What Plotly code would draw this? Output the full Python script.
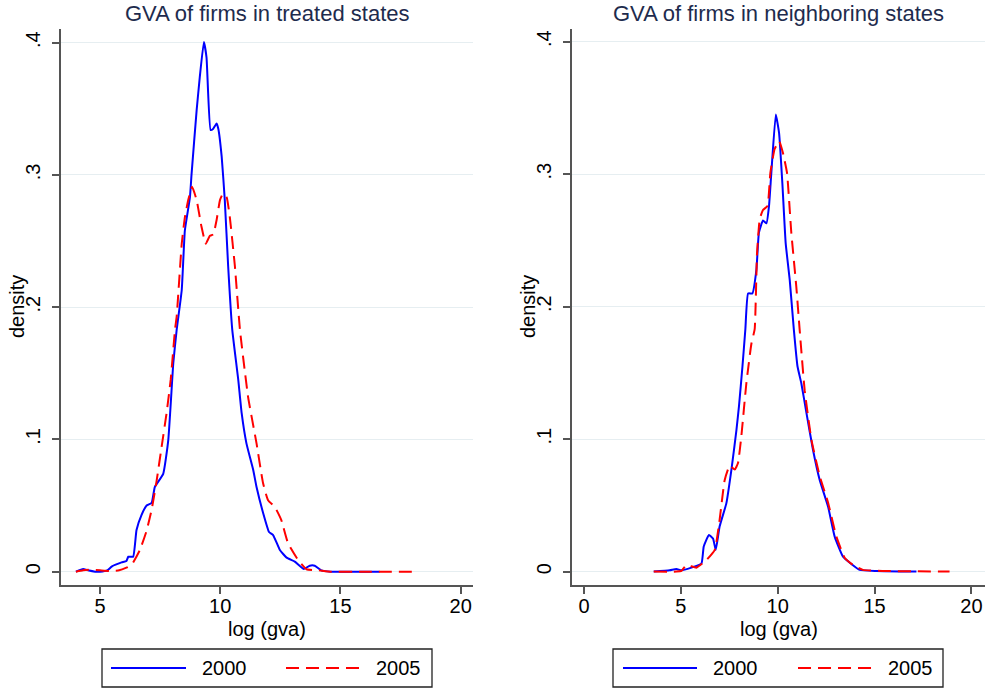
import plotly.graph_objects as go

# ---------------- data ----------------
treated_x_2000 = [4.0, 4.3, 4.5, 4.8, 5.0, 5.3, 5.5, 5.9, 6.1, 6.18, 6.38, 6.52, 6.73, 6.94, 7.15, 7.28, 7.63, 7.84,
                  8.05, 8.19, 8.40, 8.53, 8.74, 8.81, 9.02, 9.15, 9.32, 9.43, 9.60, 9.71, 9.85, 9.92, 10.06, 10.19,
                  10.33, 10.5, 10.75, 10.89, 11.09, 11.37, 11.51, 11.79, 12.03, 12.2, 12.48, 12.76, 13.1, 13.48,
                  13.72, 13.93, 14.2, 14.6, 15.5, 16.63]
treated_y_2000 = [0, 0.002, 0.001, 0, 0, 0.001, 0.004, 0.007, 0.008, 0.0113, 0.0113, 0.0315, 0.043, 0.050, 0.052,
                  0.064, 0.074, 0.0995, 0.158, 0.183, 0.213, 0.258, 0.283, 0.301, 0.349, 0.374, 0.4006, 0.389,
                  0.334, 0.335, 0.339, 0.335, 0.314, 0.281, 0.231, 0.183, 0.145, 0.120, 0.097, 0.077, 0.064, 0.044,
                  0.030, 0.0277, 0.0164, 0.0106, 0.0076, 0.002, 0.0045, 0.0045, 0.001, 0.0, 0, 0]

treated_x_2005 = [4.0, 4.3, 4.6, 5.0, 5.4, 5.8, 6.1, 6.31, 6.66, 6.94, 7.15, 7.35, 7.56, 7.77, 7.94, 8.12, 8.19,
                  8.40, 8.53, 8.67, 8.83, 9.02, 9.22, 9.40, 9.57, 9.71, 9.85, 9.99, 10.12, 10.27, 10.40, 10.61,
                  10.82, 11.16, 11.51, 11.78, 11.99, 12.27, 12.54, 12.82, 13.24, 13.59, 14.1, 14.6, 16.0, 18.22]
treated_y_2005 = [0, 0.001, 0.0015, 0.001, 0.0005, 0.001, 0.003, 0.005, 0.0164, 0.031, 0.047, 0.068, 0.094, 0.12,
                  0.145, 0.183, 0.193, 0.248, 0.268, 0.281, 0.291, 0.281, 0.261, 0.248, 0.254, 0.255, 0.266, 0.281,
                  0.286, 0.283, 0.268, 0.231, 0.183, 0.132, 0.097, 0.067, 0.054, 0.049, 0.039, 0.0215, 0.0088,
                  0.0018, 0.001, 0, 0, 0]

neigh_x_2000 = [3.6, 4.42, 4.77, 5.03, 5.54, 6.06, 6.18, 6.45, 6.66, 6.8, 7.0, 7.35, 7.61, 7.87, 8.0, 8.18, 8.33,
                8.47, 8.69, 8.9, 9.03, 9.24, 9.42, 9.55, 9.67, 9.9, 10.07, 10.24, 10.41, 10.62, 10.83, 11.02, 11.22,
                11.48, 11.82, 12.17, 12.6, 12.94, 13.37, 13.8, 14.23, 15.1, 17.16]
neigh_y_2000 = [0, 0.001, 0.002, 0.001, 0.003, 0.006, 0.019, 0.0277, 0.025, 0.0164, 0.034, 0.0517, 0.077, 0.107,
                0.125, 0.155, 0.183, 0.210, 0.210, 0.228, 0.256, 0.265, 0.263, 0.276, 0.301, 0.345, 0.331, 0.293,
                0.248, 0.220, 0.183, 0.155, 0.142, 0.120, 0.092, 0.069, 0.049, 0.0264, 0.0113, 0.0058, 0.0013,
                0.0005, 0]

neigh_x_2005 = [3.6, 4.77, 5.03, 5.28, 5.8, 6.32, 6.75, 7.0, 7.26, 7.52, 7.78, 7.95, 8.12, 8.38, 8.64, 8.81, 8.93,
                9.07, 9.24, 9.47, 9.62, 9.84, 10.07, 10.27, 10.48, 10.7, 10.96, 11.13, 11.39, 11.74, 12.17, 12.6,
                13.03, 13.46, 13.89, 14.4, 15.4, 18.87]
neigh_y_2005 = [0, 0, 0.0005, 0.005, 0.003, 0.0087, 0.0164, 0.039, 0.069, 0.080, 0.077, 0.082, 0.102, 0.142, 0.172,
                0.183, 0.240, 0.266, 0.273, 0.276, 0.301, 0.319, 0.325, 0.316, 0.301, 0.256, 0.215, 0.183, 0.137,
                0.0995, 0.072, 0.052, 0.0264, 0.0103, 0.005, 0.0013, 0.0005, 0]

panel_titles = ["GVA of firms in treated states", "GVA of firms in neighboring states"]
series_names = ["2000", "2005"]
y_tickvals = [0, 0.1, 0.2, 0.3, 0.4]
y_ticktext = ["0", ".1", ".2", ".3", ".4"]
left_xticks = [5, 10, 15, 20]
right_xticks = [0, 5, 10, 15, 20]

# ---------------- styling ----------------
W, H = 985, 690
FONT = "Liberation Sans, Arial, Helvetica, sans-serif"
BLUE = "#0000ff"
RED = "#ff0000"
GRID = "#e6eef1"
AXIS = "#555555"
TITLE_COLOR = "#1e2b4d"
DASH = "13px,7px"

def px(x):
    return x / W

def py(y):
    return 1 - y / H

fig = go.Figure()

def line(color, dash=None):
    d = dict(color=color, width=2, shape="spline", smoothing=0.4)
    if dash:
        d["dash"] = dash
    return d

fig.add_trace(go.Scatter(x=treated_x_2000, y=treated_y_2000, mode="lines", name=series_names[0],
                         line=line(BLUE), xaxis="x", yaxis="y", showlegend=False))
fig.add_trace(go.Scatter(x=treated_x_2005, y=treated_y_2005, mode="lines", name=series_names[1],
                         line=line(RED, DASH), xaxis="x", yaxis="y", showlegend=False))
fig.add_trace(go.Scatter(x=neigh_x_2000, y=neigh_y_2000, mode="lines", name=series_names[0],
                         line=line(BLUE), xaxis="x2", yaxis="y2", showlegend=False))
fig.add_trace(go.Scatter(x=neigh_x_2005, y=neigh_y_2005, mode="lines", name=series_names[1],
                         line=line(RED, DASH), xaxis="x2", yaxis="y2", showlegend=False))

tickfont = dict(family=FONT, size=20, color="black")

common_x = dict(showgrid=False, zeroline=False, showline=True, linecolor=AXIS, linewidth=1.5,
                ticks="outside", ticklen=7, tickcolor=AXIS, tickwidth=1.5, tickfont=tickfont,
                ticklabelstandoff=-5)
common_y = dict(showgrid=True, gridcolor=GRID, gridwidth=1, zeroline=True, zerolinecolor=GRID,
                zerolinewidth=1, showline=True, linecolor=AXIS, linewidth=1.5, ticks="outside", ticklen=7,
                tickcolor=AXIS, tickwidth=1.5, tickfont=tickfont, tickangle=-90,
                tickvals=y_tickvals, ticktext=y_ticktext, ticklabelstandoff=4)

L = (61, 473)
R = (572, 985)
TOP, BOT = 29, 585

fig.update_layout(
    width=W, height=H,
    margin=dict(l=0, r=0, t=0, b=0),
    paper_bgcolor="white", plot_bgcolor="white",
    font=dict(family=FONT, color="black"),
    xaxis=dict(domain=[px(L[0]), px(L[1])], range=[3.38, 20.51], tickvals=left_xticks, anchor="y", **common_x),
    yaxis=dict(domain=[py(BOT), py(TOP)], range=[-0.0101, 0.4104], anchor="x", **common_y),
    xaxis2=dict(domain=[px(R[0]), px(R[1])], range=[-0.62, 20.7], tickvals=right_xticks, anchor="y2", **common_x),
    yaxis2=dict(domain=[py(BOT), py(TOP)], range=[-0.0101, 0.4096], anchor="x2", **common_y),
)

annotations = []
shapes = []
for (x0, x1), title in zip([L, R], panel_titles):
    cx = (x0 + x1) / 2
    annotations.append(dict(x=px(cx), y=py(14), xref="paper", yref="paper", text=title, showarrow=False,
                            xanchor="center", yanchor="middle",
                            font=dict(family=FONT, size=22, color=TITLE_COLOR)))
    annotations.append(dict(x=px(cx), y=py(629), xref="paper", yref="paper", text="log (gva)", showarrow=False,
                            xanchor="center", yanchor="middle", font=dict(family=FONT, size=20, color="black")))
for xc in [17, 528]:
    annotations.append(dict(x=px(xc), y=py(307), xref="paper", yref="paper", text="density", showarrow=False,
                            textangle=-90, xanchor="center", yanchor="middle",
                            font=dict(family=FONT, size=20, color="black")))

# legend boxes (one per panel)
legend_specs = [
    dict(box=(102, 432), s1=(111, 186), t1=224, s2=(286, 362), t2=398),
    dict(box=(613, 943), s1=(623, 697), t1=735, s2=(798, 872), t2=910),
]
LY0, LY1, LYC = 649, 687, 668
for spec in legend_specs:
    shapes.append(dict(type="rect", xref="paper", yref="paper", x0=px(spec["box"][0]), x1=px(spec["box"][1]),
                       y0=py(LY1), y1=py(LY0), line=dict(color="#222222", width=1.3), fillcolor="white"))
    shapes.append(dict(type="line", xref="paper", yref="paper", x0=px(spec["s1"][0]), x1=px(spec["s1"][1]),
                       y0=py(LYC), y1=py(LYC), line=dict(color=BLUE, width=2)))
    shapes.append(dict(type="line", xref="paper", yref="paper", x0=px(spec["s2"][0]), x1=px(spec["s2"][1]),
                       y0=py(LYC), y1=py(LYC), line=dict(color=RED, width=2, dash=DASH)))
    for tx, name in [(spec["t1"], series_names[0]), (spec["t2"], series_names[1])]:
        annotations.append(dict(x=px(tx), y=py(LYC), xref="paper", yref="paper", text=name, showarrow=False,
                                xanchor="center", yanchor="middle", font=dict(family=FONT, size=20, color="black")))

fig.update_layout(annotations=annotations, shapes=shapes)
fig.write_html("out.html", config={"displayModeBar": False},
               post_script="document.body.style.margin='0';document.body.style.padding='0';"
                           "document.documentElement.style.overflow='hidden';")
